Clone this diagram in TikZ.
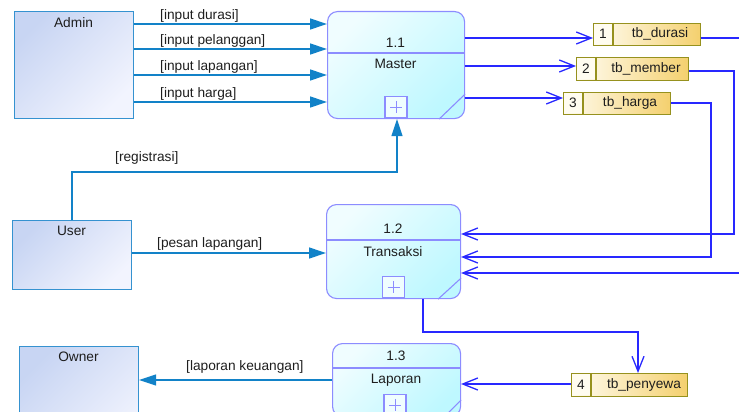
\documentclass[tikz,border=0pt]{standalone}
\usepackage{fontspec}
\setmainfont{Liberation Sans}
\usetikzlibrary{arrows.meta,calc}
\definecolor{entB}{RGB}{53,146,208}
\definecolor{entA}{RGB}{200,213,243}
\definecolor{entC}{RGB}{242,244,254}
\definecolor{eflow}{RGB}{18,130,200}
\definecolor{sflowc}{RGB}{40,40,255}
\definecolor{procB}{RGB}{140,140,255}
\definecolor{procA}{RGB}{240,253,255}
\definecolor{procC}{RGB}{190,248,255}
\definecolor{stoB}{RGB}{150,145,30}
\definecolor{stoA}{RGB}{255,252,240}
\definecolor{stoC}{RGB}{244,208,110}
\definecolor{txtc}{RGB}{30,30,30}
\begin{document}
\begin{tikzpicture}[x=1pt,y=-1pt,
  every node/.style={font=\fontsize{13.7}{15}\selectfont, text=txtc},
  entity/.style={draw=entB, line width=1.1pt, top color=entA, bottom color=entC, shading angle=45, rectangle, inner sep=0pt, anchor=north west},
  proc/.style={draw=procB, line width=1.1pt, rounded corners=10pt, top color=procA, bottom color=procC, shading angle=45, rectangle, inner sep=0pt, anchor=north west},
  procline/.style={draw=procB, line width=1.1pt},
  plusline/.style={draw=procB, line width=0.9pt},
  plusbox/.style={draw=procB, line width=1.1pt, fill=procA, inner sep=0pt, anchor=south, minimum width=22pt, minimum height=21pt},
  store/.style={draw=stoB, line width=1.1pt, left color=stoA, right color=stoC, rectangle, inner sep=0pt, anchor=north west},
  stoline/.style={draw=stoB, line width=1.1pt},
  txt/.style={inner sep=0pt},
  lbl/.style={inner sep=0pt, anchor=west},
  eflow/.style={draw=eflow, line width=1.3pt, -{Triangle[length=17pt,width=11pt]}},
  sflow/.style={draw=sflowc, line width=1.3pt, -{Straight Barb[length=15pt,width=12pt,line width=1.3pt]}}
]
\useasboundingbox (0,0) rectangle (739,412);
\clip (0,0) rectangle (739,412);

% external entities
\node[entity, minimum width=119pt, minimum height=107pt] (admin) at (14,11) {};
\node[txt] (adminT) at (73.5,23) {Admin};
\node[entity, minimum width=119pt, minimum height=69pt] (user) at (12,220) {};
\node[txt] (userT) at (71.5,231) {User};
\node[entity, minimum width=119pt, minimum height=110pt] (owner) at (19,346) {};
\node[txt] (ownerT) at (78.5,357) {Owner};

% process 1.1
\node[proc, minimum width=137pt, minimum height=107pt] (p11) at (327,11) {};
\draw[procline] (p11.west |- 0,53) -- (p11.east |- 0,53);
\node[txt] (p11n) at (395.5,43) {1.1};
\node[txt] (p11t) at (395.5,64) {Master};
\node[plusbox] (p11p) at (396,118) {};
\draw[plusline] ($(p11p.center)+(-6,0)$) -- ($(p11p.center)+(6,0)$) ($(p11p.center)+(0,-6)$) -- ($(p11p.center)+(0,6)$);
\draw[procline] ($(p11.south east)+(-26,0)$) -- ($(p11.south east)+(0,-25)$);

% process 1.2
\node[proc, minimum width=134pt, minimum height=94pt] (p12) at (326,204) {};
\draw[procline] (p12.west |- 0,240) -- (p12.east |- 0,240);
\node[txt] (p12n) at (393,229) {1.2};
\node[txt] (p12t) at (393,252) {Transaksi};
\node[plusbox] (p12p) at (393.5,298) {};
\draw[plusline] ($(p12p.center)+(-6,0)$) -- ($(p12p.center)+(6,0)$) ($(p12p.center)+(0,-6)$) -- ($(p12p.center)+(0,6)$);
\draw[procline] ($(p12.south east)+(-23,0)$) -- ($(p12.south east)+(0,-21)$);

% process 1.3
\node[proc, minimum width=128pt, minimum height=73pt] (p13) at (332,343) {};
\draw[procline] (p13.west |- 0,368) -- (p13.east |- 0,368);
\node[txt] (p13n) at (396,356) {1.3};
\node[txt] (p13t) at (396,380) {Laporan};
\node[plusbox] (p13p) at (395,416) {};
\draw[plusline] ($(p13p.center)+(-6,0)$) -- ($(p13p.center)+(6,0)$) ($(p13p.center)+(0,-6)$) -- ($(p13p.center)+(0,6)$);
\draw[procline] ($(p13.south east)+(-17,0)$) -- ($(p13.south east)+(0,-17)$);

% data stores
\node[store, minimum width=107pt, minimum height=22pt] (tbd) at (593,23) {};
\fill[stoA] (594,24) rectangle (612.4,44);
\draw[stoline] (613,23) -- (613,45);
\node[txt] (tbdn) at (603,34) {1};
\node[txt] (tbdt) at (660,34) {tb\_durasi};

\node[store, minimum width=112pt, minimum height=23pt] (tbm) at (576,57) {};
\fill[stoA] (577,58) rectangle (595.4,79);
\draw[stoline] (596,57) -- (596,80);
\node[txt] (tbmn) at (586,68.5) {2};
\node[txt] (tbmt) at (646,68.5) {tb\_member};

\node[store, minimum width=107pt, minimum height=22pt] (tbh) at (563,92) {};
\fill[stoA] (564,93) rectangle (582.4,113);
\draw[stoline] (583,92) -- (583,114);
\node[txt] (tbhn) at (573,103) {3};
\node[txt] (tbht) at (630,103) {tb\_harga};

\node[store, minimum width=116pt, minimum height=23pt] (tbp) at (571,373) {};
\fill[stoA] (572,374) rectangle (590.4,395);
\draw[stoline] (591,373) -- (591,396);
\node[txt] (tbpn) at (581,384.5) {4};
\node[txt] (tbpt) at (644,384.5) {tb\_penyewa};

% flows from Admin
\draw[eflow] (admin.east |- 0,24) -- (p11.west |- 0,24);
\draw[eflow] (admin.east |- 0,49) -- (p11.west |- 0,49);
\draw[eflow] (admin.east |- 0,75) -- (p11.west |- 0,75);
\draw[eflow] (admin.east |- 0,102) -- (p11.west |- 0,102);
\node[lbl] (l1) at (160,16) {[input durasi]};
\node[lbl] (l2) at (160,41) {[input pelanggan]};
\node[lbl] (l3) at (160,67) {[input lapangan]};
\node[lbl] (l4) at (160,94) {[input harga]};

% flows from User
\coordinate (r1) at (72,172);
\coordinate (r2) at (397,172);
\draw[eflow] (user.north -| r1) -- (r1) -- (r2) -- (r2 |- p11.south);
\node[lbl] (l5) at (115,158) {[registrasi]};
\draw[eflow] (user.east |- 0,253) -- (p12.west |- 0,253);
\node[lbl] (l6) at (157,244) {[pesan lapangan]};

% flow to Owner
\draw[eflow] (p13.west |- 0,380) -- (owner.east |- 0,380);
\node[lbl] (l7) at (186,366.5) {[laporan keuangan]};

% flows to stores
\draw[sflow] (p11.east |- 0,38) -- (tbd.west |- 0,38);
\draw[sflow] (p11.east |- 0,66) -- (tbm.west |- 0,66);
\draw[sflow] (p11.east |- 0,98) -- (tbh.west |- 0,98);

% flows from stores to Transaksi
\coordinate (d1) at (760,38);
\coordinate (d2) at (760,273);
\draw[sflow] (tbd.east |- d1) -- (d1) -- (d2) -- (p12.east |- d2);
\coordinate (m1) at (734,71);
\coordinate (m2) at (734,234);
\draw[sflow] (tbm.east |- m1) -- (m1) -- (m2) -- (p12.east |- m2);
\coordinate (h1) at (711,103);
\coordinate (h2) at (711,257);
\draw[sflow] (tbh.east |- h1) -- (h1) -- (h2) -- (p12.east |- h2);

% Transaksi -> tb_penyewa
\coordinate (t1) at (423,332);
\coordinate (t2) at (638,332);
\draw[sflow] (p12.south -| t1) -- (t1) -- (t2) -- (t2 |- tbp.north);

% tb_penyewa -> Laporan
\draw[sflow] (tbp.west |- 0,384) -- (p13.east |- 0,384);
\end{tikzpicture}
\end{document}
